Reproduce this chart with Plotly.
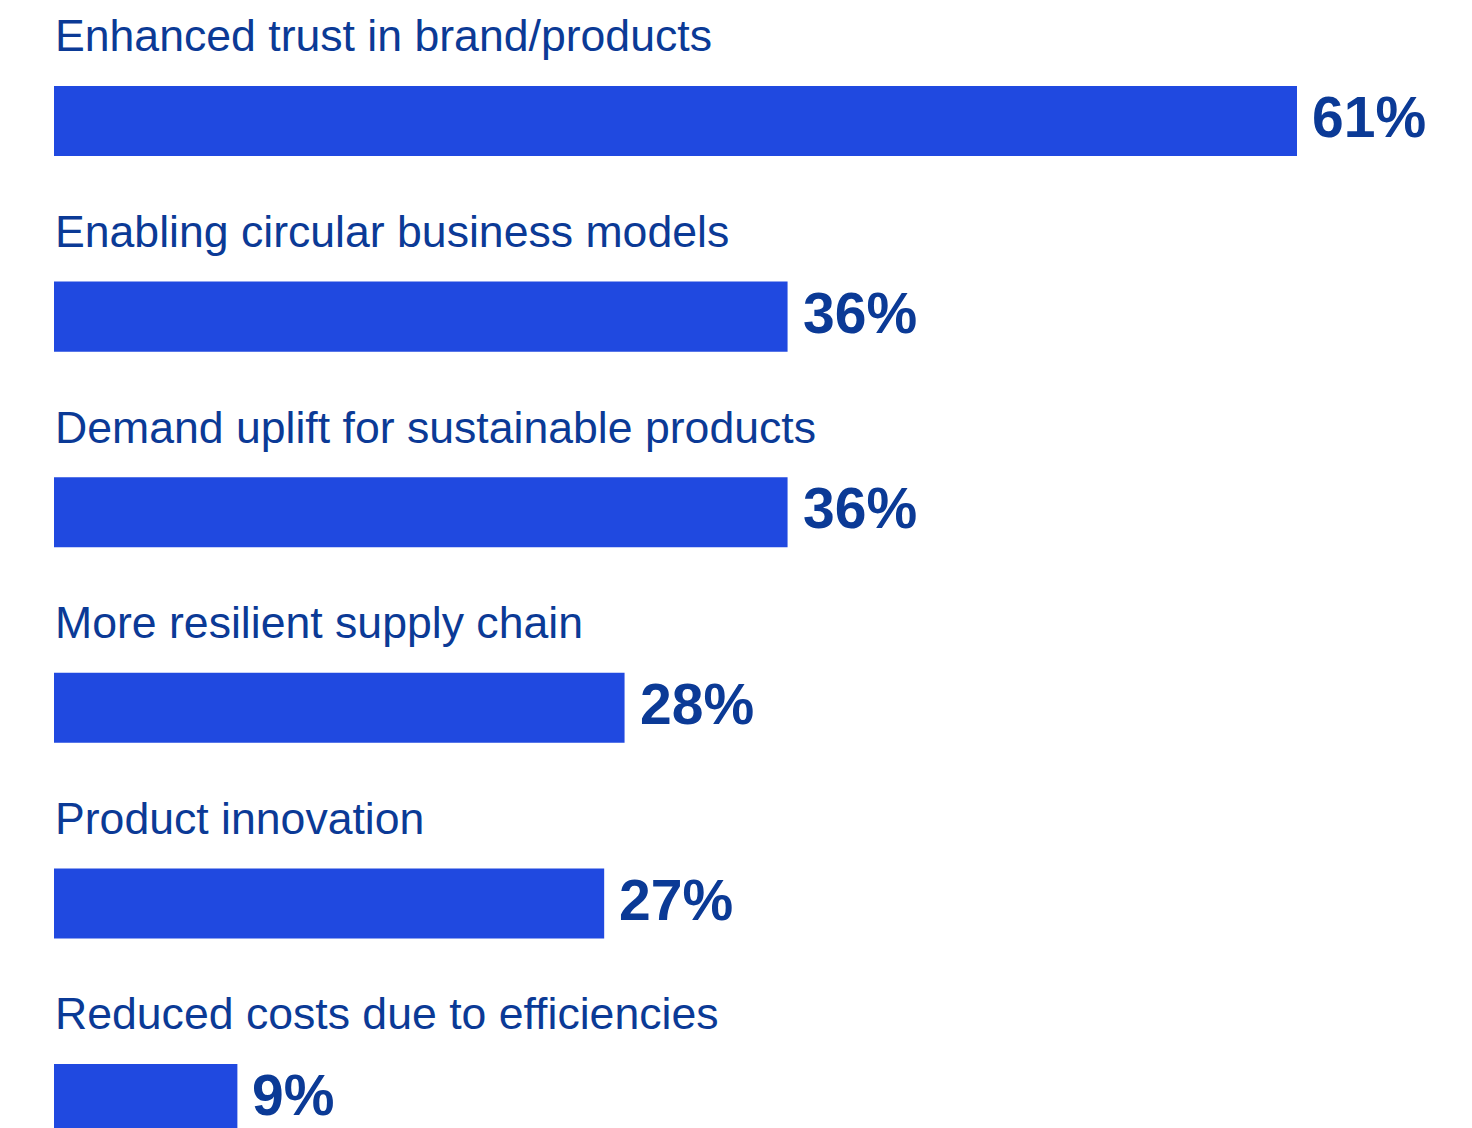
import plotly.graph_objects as go

# Survey results: perceived benefits
categories = [
    "Enhanced trust in brand/products",
    "Enabling circular business models",
    "Demand uplift for sustainable products",
    "More resilient supply chain",
    "Product innovation",
    "Reduced costs due to efficiencies",
]
values = [61, 36, 36, 28, 27, 9]
value_labels = ["61%", "36%", "36%", "28%", "27%", "9%"]

BAR_COLOR = "#2049E0"
TEXT_COLOR = "#0B3A96"

positions = list(range(len(categories)))

fig = go.Figure(
    go.Bar(
        x=values,
        y=positions,
        orientation="h",
        width=0.358,
        marker=dict(color=BAR_COLOR, line=dict(width=0)),
        hoverinfo="skip",
    )
)

annotations = []
for pos, cat, val, lab in zip(positions, categories, values, value_labels):
    # Category caption above each bar
    annotations.append(dict(
        x=0, y=pos - 0.435, xref="x", yref="y",
        text=cat, showarrow=False, xanchor="left", yanchor="middle",
        xshift=-1,
        font=dict(family="Liberation Sans, Arial, sans-serif", size=44.6, color=TEXT_COLOR),
    ))
    # Value label to the right of each bar
    annotations.append(dict(
        x=val, y=pos - 0.02, xref="x", yref="y",
        text=f"<b>{lab}</b>", showarrow=False, xanchor="left", yanchor="middle",
        xshift=13,
        font=dict(family="Liberation Sans, Arial, sans-serif", size=57, color=TEXT_COLOR),
    ))

fig.update_layout(
    width=1472, height=1128,
    margin=dict(l=54, r=0, t=0, b=0, pad=0),
    paper_bgcolor="white", plot_bgcolor="white",
    showlegend=False,
    annotations=annotations,
    xaxis=dict(range=[0, 1418 / 20.377], visible=False, fixedrange=True),
    yaxis=dict(range=[5.148, -0.6186], visible=False, fixedrange=True),
)

fig.write_html("out.html")
